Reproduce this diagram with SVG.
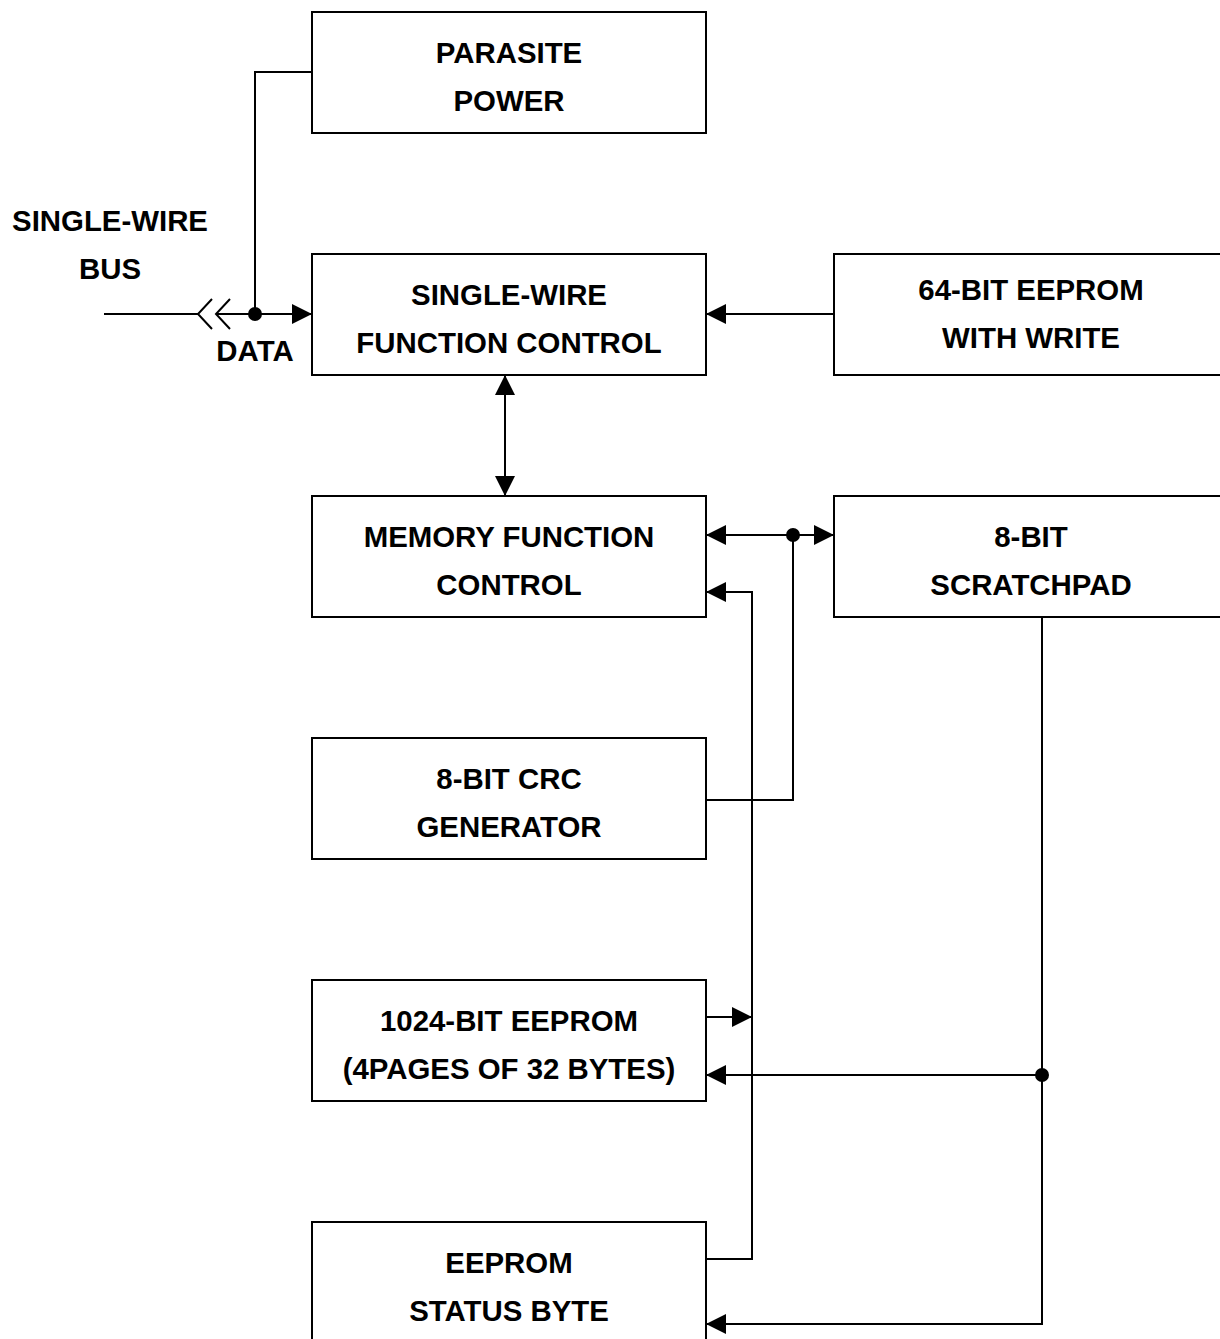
<svg xmlns="http://www.w3.org/2000/svg" width="1220" height="1339" viewBox="0 0 1220 1339">
<style>
.box{fill:#fff;stroke:#000;stroke-width:2}
.t{font-family:"Liberation Sans",Arial,sans-serif;font-weight:bold;font-size:29.4px;text-anchor:middle;fill:#000}
.w{fill:none;stroke:#000;stroke-width:2}
.dot{fill:#000}
</style>
<defs>
<marker id="ah" viewBox="0 0 20 20" refX="20" refY="10" markerWidth="20" markerHeight="20" markerUnits="userSpaceOnUse" orient="auto-start-reverse">
<path d="M0,0 L20,10 L0,20 z" fill="#000"/>
</marker>
</defs>
<rect width="1220" height="1339" fill="#fff"/>
<g id="connectors">
<path class="w" d="M104,314 H198"/>
<polyline class="w" points="212,299 198,314 212,329"/>
<polyline class="w" points="230,299 216,314 230,329"/>
<path class="w" d="M216,314 H312" marker-end="url(#ah)"/>
<path class="w" d="M255,314 V72 H312"/>
<circle class="dot" cx="255" cy="314" r="7"/>
<path class="w" d="M834,314 H706" marker-end="url(#ah)"/>
<path class="w" d="M505,375 V496" marker-start="url(#ah)" marker-end="url(#ah)"/>
<path class="w" d="M706,535 H834" marker-start="url(#ah)" marker-end="url(#ah)"/>
<circle class="dot" cx="793" cy="535" r="7"/>
<path class="w" d="M793,535 V800 H706"/>
<path class="w" d="M706,1259 H752 V592 H706" marker-end="url(#ah)"/>
<path class="w" d="M706,1017 H752" marker-end="url(#ah)"/>
<path class="w" d="M1042,617 V1324 H706" marker-end="url(#ah)"/>
<path class="w" d="M1042,1075 H706" marker-end="url(#ah)"/>
<circle class="dot" cx="1042" cy="1075" r="7"/>
</g>
<g id="label-bus">
<text class="t" x="110" y="231">SINGLE-WIRE</text>
<text class="t" x="110" y="279">BUS</text>
</g>
<g id="label-data">
<text class="t" x="255" y="361">DATA</text>
</g>
<g id="parasite-power">
<rect class="box" x="312" y="12" width="394" height="121"/>
<text class="t" x="509" y="63">PARASITE</text>
<text class="t" x="509" y="111">POWER</text>
</g>
<g id="single-wire-function-control">
<rect class="box" x="312" y="254" width="394" height="121"/>
<text class="t" x="509" y="305">SINGLE-WIRE</text>
<text class="t" x="509" y="353">FUNCTION CONTROL</text>
</g>
<g id="eeprom-64">
<rect class="box" x="834" y="254" width="394" height="121"/>
<text class="t" x="1031" y="300">64-BIT EEPROM</text>
<text class="t" x="1031" y="348">WITH WRITE</text>
</g>
<g id="memory-function-control">
<rect class="box" x="312" y="496" width="394" height="121"/>
<text class="t" x="509" y="547">MEMORY FUNCTION</text>
<text class="t" x="509" y="595">CONTROL</text>
</g>
<g id="scratchpad">
<rect class="box" x="834" y="496" width="394" height="121"/>
<text class="t" x="1031" y="547">8-BIT</text>
<text class="t" x="1031" y="595">SCRATCHPAD</text>
</g>
<g id="crc-generator">
<rect class="box" x="312" y="738" width="394" height="121"/>
<text class="t" x="509" y="789">8-BIT CRC</text>
<text class="t" x="509" y="837">GENERATOR</text>
</g>
<g id="eeprom-1024">
<rect class="box" x="312" y="980" width="394" height="121"/>
<text class="t" x="509" y="1031">1024-BIT EEPROM</text>
<text class="t" x="509" y="1079">(4PAGES OF 32 BYTES)</text>
</g>
<g id="status-byte">
<rect class="box" x="312" y="1222" width="394" height="130"/>
<text class="t" x="509" y="1273">EEPROM</text>
<text class="t" x="509" y="1321">STATUS BYTE</text>
</g>
</svg>
